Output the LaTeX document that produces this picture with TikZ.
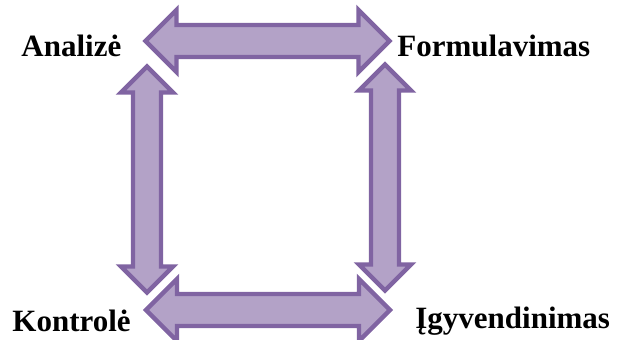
\documentclass[tikz,border=0pt]{standalone}
\usepackage{fontspec}
\setmainfont{Liberation Serif}
\usetikzlibrary{shapes.arrows, positioning}
\definecolor{rodykle}{HTML}{B3A2C7}
\definecolor{kontur}{HTML}{8064A2}

\begin{document}
\begin{tikzpicture}[
            x=0.5pt, y=-0.5pt,
            tekstas/.style={inner sep=0pt, anchor=base west, font=\fontsize{15.5}{18}\selectfont\bfseries},
            blokas/.style={double arrow, draw=kontur, fill=rodykle, line width=2.2pt, inner xsep=0pt, double arrow tip angle=90},
            horiz/.style={blokas, inner ysep=6.9pt, minimum height=122pt, minimum width=29pt, double arrow head extend=7.5pt},
            vert/.style={blokas, rotate=90, inner ysep=5.9pt, minimum height=113pt, minimum width=23.5pt, double arrow head extend=6pt}
          ]
            \useasboundingbox (0,0) rectangle (617,340);
            % etapai
            \node[tekstas] (analize) at (21,57) {Analizė};
            \node[tekstas] (formulavimas) at (397,57) {Formulavimas};
            \node[tekstas] (kontrole) at (12,332) {Kontrolė};
            \node[tekstas] (igyvendinimas) at (415,329) {Įgyvendinimas};
            % rodyklės
            \node[horiz] (virsus) at (267.5,41) {};
            \node[horiz] (apacia) at (268,310) {};
            \node[vert] (kaire) at (147,179.5) {};
            \node[vert] (desine) at (385,177.5) {};
          \end{tikzpicture}
\end{document}
